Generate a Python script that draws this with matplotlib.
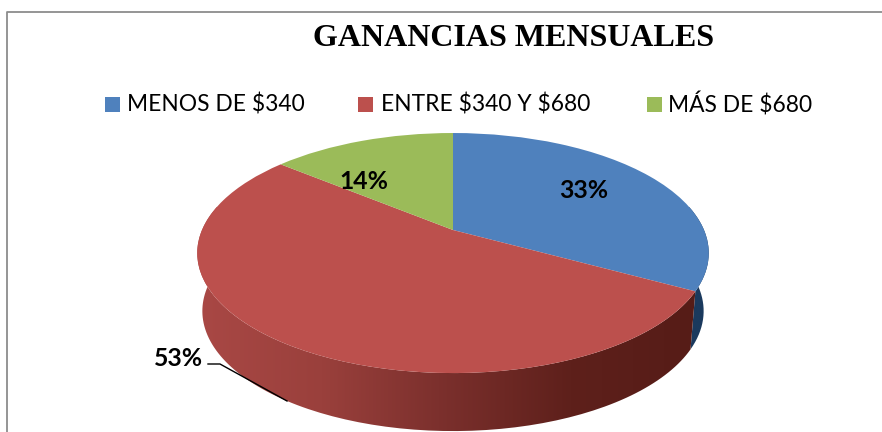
import numpy as np
import matplotlib
matplotlib.use("Agg")
import matplotlib.pyplot as plt
from matplotlib.colors import LinearSegmentedColormap
from matplotlib.patches import PathPatch, Rectangle
from matplotlib.path import Path
from matplotlib.transforms import Transform

title = "GANANCIAS MENSUALES"
categories = ["MENOS DE $340", "ENTRE $340 Y $680", "MÁS DE $680"]
values = [33, 53, 14]
colors = ["#4F81BD", "#BC504D", "#9BBB59"]

W, H = 882, 432
CX = 453
TOP_Y = 230     # pie centre on the top face
BOT_Y = 288     # same point on the bottom face
RX, RY, K = 251, 115.6, 0.192


class Tilt(Transform):
    # perspective view of the flat disc, output in image pixels
    input_dims = output_dims = 2

    def __init__(self, y0, scale=1.0):
        super().__init__()
        self.y0 = y0
        self.scale = scale

    def transform_non_affine(self, xy):
        xy = np.asarray(xy, float)
        w = 1 + K * xy[:, 1]
        return np.column_stack([CX + self.scale * RX * xy[:, 0] / w,
                                self.y0 - RY * xy[:, 1] / w])


top = Tilt(TOP_Y)
bottom = Tilt(BOT_Y, 0.98)

fig = plt.figure(figsize=(W / 100, H / 100), dpi=100)
ax = fig.add_axes([0, 0, 1, 1])

wedges, _ = ax.pie(values, colors=colors, startangle=90, counterclock=False,
                   wedgeprops=dict(linewidth=0))
ax.set_aspect("auto")
ax.set_xlim(0, W)
ax.set_ylim(H, 0)
ax.axis("off")

for w in wedges:
    w.set_transform(top + ax.transData)
    w.set_zorder(5)

# side wall, only the front half of the disc shows
wall_cmaps = [["#1B3A5E", "#1B3A5E"],
              ["#A94845", "#9A403C", "#7A2F2C", "#5E201B", "#561C17"],
              ["#7F9A45", "#7F9A45"]]
start = 0
for val, stops in zip(values, wall_cmaps):
    a0 = start / sum(values) * 2 * np.pi
    a1 = (start + val) / sum(values) * 2 * np.pi
    start += val
    # angles clockwise from the top; visible wall lies between 78 and 282 deg
    a = np.linspace(max(a0, np.radians(78)), min(a1, np.radians(282)), 120)
    if a[-1] <= a[0]:
        continue
    ring = np.column_stack([np.sin(a), np.cos(a)])
    upper = top.transform(ring)
    lower = bottom.transform(ring)
    poly = np.vstack([upper, lower[::-1], upper[:1]])
    clip = PathPatch(Path(poly), transform=ax.transData, fc="none", lw=0)
    ax.add_patch(clip)
    cmap = LinearSegmentedColormap.from_list("wall", stops)
    im = ax.imshow(np.linspace(0, 1, 256)[None, :], cmap=cmap, aspect="auto",
                   extent=[poly[:, 0].min(), poly[:, 0].max(), H, 0], zorder=3)
    im.set_clip_path(clip)
ax.set_xlim(0, W)
ax.set_ylim(H, 0)

# chart border, right and bottom sides fall outside the crop
ax.plot([6.5, 6.5, W], [H, 11.5, 11.5], color="#8C8C8C", lw=1.3, zorder=1)

ax.text(514, 38, title, family="Liberation Serif", weight="bold", fontsize=23,
        ha="center", va="center", color="black")

legend_sw = [105, 358, 647]
legend_tx = [127, 381, 668]
for name, col, sx, tx in zip(categories, colors, legend_sw, legend_tx):
    ax.add_patch(Rectangle((sx, 97), 15, 15, fc=col, lw=0))
    ax.text(tx, 104.5, name, family="Lato", fontsize=16.4, ha="left", va="center",
            color="black", parse_math=False)

label_pos = [(584, 190.5), (179, 358.5), (364, 181.5)]
for val, (x, y) in zip(values, label_pos):
    ax.text(x, y, f"{val}%", family="Lato", weight="bold", fontsize=17.8,
            ha="center", va="center", color="black", zorder=8)
ax.plot([208, 220, 287], [364, 364, 401], color="black", lw=1, zorder=8)

fig.savefig("out.png", dpi=100)
